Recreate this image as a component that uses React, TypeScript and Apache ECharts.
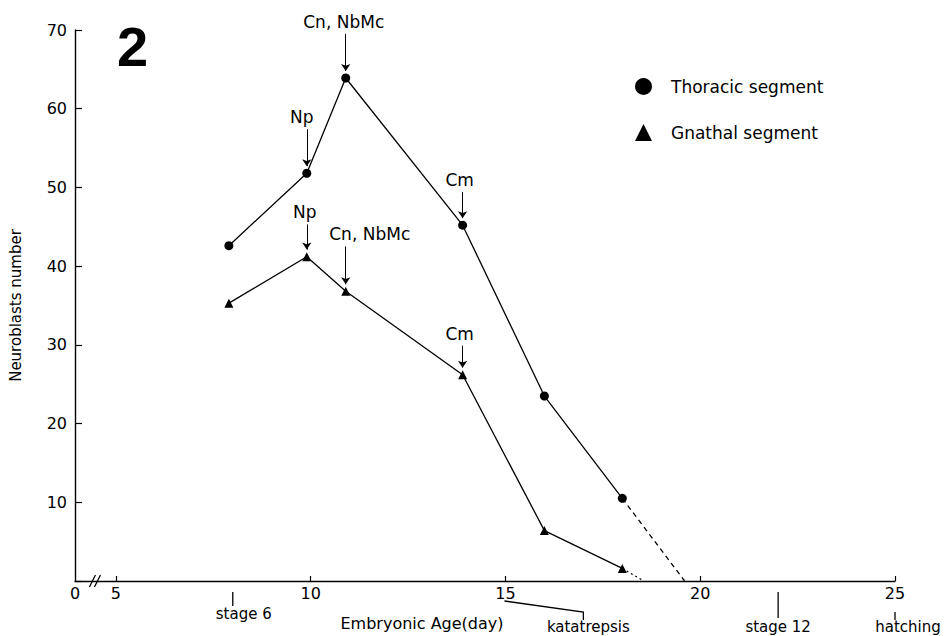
import React, { useEffect, useRef } from 'react';
import * as echarts from 'echarts';

// ---- data ----
const X_ORIGIN = 3.95; // broken axis: left end is labelled "0"
const xTickValues = [5, 10, 15, 20, 25];
const xLabelValues = [X_ORIGIN, 5, 10, 15, 20, 25];

const thoracicDays = [7.9, 9.9, 10.9, 13.9, 16, 18];
const thoracicValues = [42.6, 51.8, 63.9, 45.2, 23.5, 10.5];
const gnathalDays = [7.9, 9.9, 10.9, 13.9, 16, 18];
const gnathalValues = [35.3, 41.2, 36.8, 26.2, 6.4, 1.6];

const thoracicExtrapDays = [18, 19.6];
const thoracicExtrapValues = [10.5, 0];
const gnathalExtrapDays = [18, 18.55];
const gnathalExtrapValues = [1.6, 0];

// annotations: index of the point, text, arrow length (value units)
const thoracicNotes = [
  { index: 1, text: 'Np', len: 4.7 },
  { index: 2, text: 'Cn, NbMc', len: 4.7 },
  { index: 3, text: 'Cm', len: 3.3 },
];
const gnathalNotes = [
  { index: 1, text: 'Np', len: 3.2 },
  { index: 2, text: 'Cn, NbMc', len: 4.8 },
  { index: 3, text: 'Cm', len: 2.8 },
];
const noteOffsets: Record<string, number[]> = {
  't1': [-5, 0], 't2': [-2, 0], 't3': [-3, 0],
  'g1': [-2, 0], 'g2': [24, 0], 'g3': [-3, 0],
};

const stageDays = [8, 17, 22, 25];
const stageLabels = ['stage 6', 'katatrepsis', 'stage 12', 'hatching'];
const katatrepsisStartDay = 15;

const FONT = 'DejaVu Sans, Liberation Sans, sans-serif';
const ARROW_GAP = 0.9;

function zip(a: number[], b: number[]) {
  return a.map((d, i) => [d, b[i]]);
}

function buildMarks(days: number[], values: number[], notes: typeof thoracicNotes, key: string) {
  const lines = notes.map((n) => {
    const x = days[n.index];
    const y = values[n.index];
    return [{ coord: [x, y + ARROW_GAP + n.len] }, { coord: [x, y + ARROW_GAP] }];
  });
  const points = notes.map((n) => {
    const x = days[n.index];
    const y = values[n.index];
    return {
      name: n.text,
      coord: [x, y + ARROW_GAP + n.len],
      label: { offset: noteOffsets[key + n.index] },
    };
  });
  return {
    markLine: {
      silent: true,
      symbol: ['none', 'arrow'],
      symbolSize: 7,
      lineStyle: { color: '#000', width: 1, type: 'solid' },
      label: { show: false },
      emphasis: { disabled: true },
      data: lines,
    },
    markPoint: {
      silent: true,
      symbol: 'circle',
      symbolSize: 1,
      itemStyle: { color: 'rgba(0,0,0,0)' },
      label: {
        show: true,
        position: 'top',
        distance: 3,
        color: '#000',
        fontFamily: FONT,
        fontSize: 17,
        formatter: (p: any) => p.name,
      },
      data: points,
    },
  };
}

export default function App() {
  const ref = useRef<HTMLDivElement>(null);

  useEffect(() => {
    if (!ref.current) return;
    const chart = echarts.init(ref.current, null, { renderer: 'svg' });

    const tMarks = buildMarks(thoracicDays, thoracicValues, thoracicNotes, 't');
    const gMarks = buildMarks(gnathalDays, gnathalValues, gnathalNotes, 'g');

    chart.setOption({
      animation: false,
      backgroundColor: '#fff',
      textStyle: { fontFamily: FONT, color: '#000' },
      title: {
        text: '2',
        left: 112,
        top: 13,
        textStyle: { fontSize: 56, fontWeight: 900, color: '#000', fontFamily: 'Liberation Sans, Arial, sans-serif' },
      },
      legend: {
        orient: 'vertical',
        left: 630,
        top: 73,
        itemWidth: 17,
        itemHeight: 17,
        itemGap: 29,
        selectedMode: false,
        textStyle: { fontSize: 17, color: '#000', fontFamily: FONT, padding: [0, 0, 0, 14] },
        data: [
          { name: 'Thoracic segment', icon: 'circle' },
          { name: 'Gnathal segment', icon: 'triangle' },
        ],
      },
      grid: { left: 75, right: 53, top: 30, bottom: 55, containLabel: false },
      xAxis: {
        type: 'value',
        min: X_ORIGIN,
        max: 25,
        name: 'Embryonic Age(day)',
        nameLocation: 'middle',
        nameGap: 34,
        nameTextStyle: { fontSize: 16, color: '#000', fontFamily: FONT, padding: [0, 126, 0, 0] },
        axisLine: { lineStyle: { color: '#000', width: 1.4 } },
        axisTick: { inside: true, length: 5, customValues: xTickValues, lineStyle: { color: '#000', width: 1.2 } },
        axisLabel: {
          customValues: xLabelValues,
          margin: 4,
          fontSize: 16,
          color: '#000',
          fontFamily: FONT,
          formatter: (v: number) => (Math.abs(v - X_ORIGIN) < 1e-6 ? '0' : String(v)),
        },
        splitLine: { show: false },
      },
      yAxis: {
        type: 'value',
        min: 0,
        max: 70,
        interval: 10,
        name: 'Neuroblasts number',
        nameLocation: 'middle',
        nameGap: 52,
        nameRotate: 90,
        nameTextStyle: { fontSize: 15, color: '#000', fontFamily: FONT },
        axisLine: { show: true, lineStyle: { color: '#000', width: 1.4 } },
        axisTick: { show: true, inside: true, length: 7, lineStyle: { color: '#000', width: 1.2 } },
        axisLabel: {
          margin: 8,
          fontSize: 16,
          color: '#000',
          fontFamily: FONT,
          formatter: (v: number) => (v === 0 ? '' : String(v)),
        },
        splitLine: { show: false },
      },
      series: [
        {
          name: 'Thoracic segment',
          type: 'line',
          data: zip(thoracicDays, thoracicValues),
          symbol: 'circle',
          symbolSize: 9,
          itemStyle: { color: '#000' },
          lineStyle: { color: '#000', width: 1.3 },
          emphasis: { disabled: true },
          z: 3,
          ...tMarks,
        },
        {
          name: 'Gnathal segment',
          type: 'line',
          data: zip(gnathalDays, gnathalValues),
          symbol: 'triangle',
          symbolSize: 9,
          itemStyle: { color: '#000' },
          lineStyle: { color: '#000', width: 1.3 },
          emphasis: { disabled: true },
          z: 3,
          ...gMarks,
        },
        {
          name: 'Thoracic extrapolation',
          type: 'line',
          data: zip(thoracicExtrapDays, thoracicExtrapValues),
          symbol: 'none',
          lineStyle: { color: '#000', width: 1.3, type: [5, 4] },
          silent: true,
        },
        {
          name: 'Gnathal extrapolation',
          type: 'line',
          data: zip(gnathalExtrapDays, gnathalExtrapValues),
          symbol: 'none',
          lineStyle: { color: '#000', width: 1.3, type: [2, 3] },
          silent: true,
        },
      ],
    });

    // bottom stage annotations, positioned with the chart's x scale
    const px = (d: number) => chart.convertToPixel({ xAxisIndex: 0 }, d) as number;
    const axisY = chart.convertToPixel({ yAxisIndex: 0 }, 0) as number;
    const lineStyle = { stroke: '#000', lineWidth: 1.3 };
    const textStyle = (t: string, x: number, y: number) => ({
      type: 'text',
      x,
      y,
      style: { text: t, fill: '#000', font: `15px ${FONT}`, textAlign: 'center', textVerticalAlign: 'middle' },
    });
    const xs = stageDays.map(px);
    const xKat = px(katatrepsisStartDay);
    const xBreak = px(4.5);
    const graphic: any[] = [
      // axis break "//"
      { type: 'line', shape: { x1: xBreak - 7, y1: axisY + 6, x2: xBreak - 1, y2: axisY - 6 }, style: lineStyle },
      { type: 'line', shape: { x1: xBreak - 2, y1: axisY + 6, x2: xBreak + 4, y2: axisY - 6 }, style: lineStyle },
      // stage 6
      { type: 'line', shape: { x1: xs[0], y1: axisY + 11, x2: xs[0], y2: axisY + 25 }, style: lineStyle },
      textStyle(stageLabels[0], xs[0] + 11, axisY + 33),
      // katatrepsis bracket
      { type: 'polyline', shape: { points: [[xKat - 1, axisY + 20], [xs[1], axisY + 31], [xs[1], axisY + 39]] }, style: { ...lineStyle, fill: 'none' } },
      textStyle(stageLabels[1], xs[1] + 5, axisY + 46),
      // stage 12
      { type: 'line', shape: { x1: xs[2], y1: axisY + 11, x2: xs[2], y2: axisY + 37 }, style: lineStyle },
      textStyle(stageLabels[2], xs[2], axisY + 46),
      // hatching
      { type: 'line', shape: { x1: xs[3], y1: axisY + 31, x2: xs[3], y2: axisY + 39 }, style: lineStyle },
      textStyle(stageLabels[3], xs[3] + 13, axisY + 46),
    ];
    chart.setOption({ graphic });

    return () => chart.dispose();
  }, []);

  return <div ref={ref} style={{ width: 948, height: 636, position: 'absolute', left: 0, top: 0 }} />;
}
